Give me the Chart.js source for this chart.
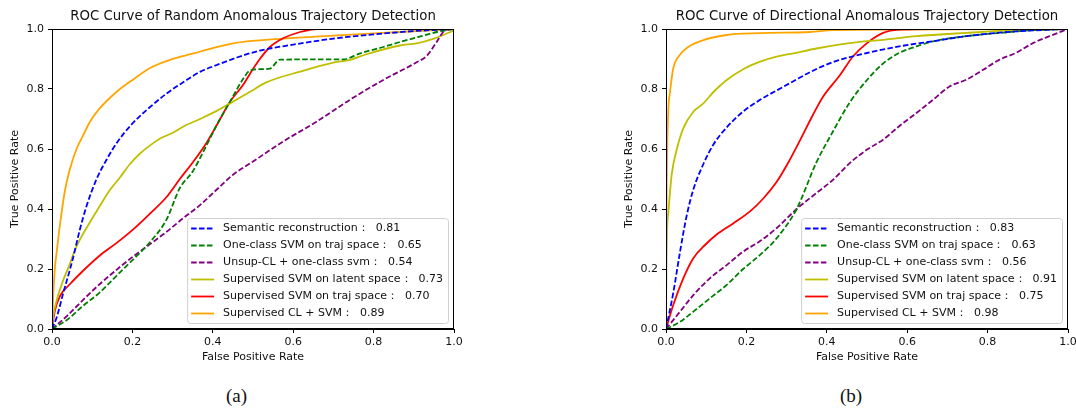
<!DOCTYPE html>
<html>
<head>
<meta charset="utf-8">
<script src="https://cdn.jsdelivr.net/npm/chart.js@4.4.1/dist/chart.umd.min.js"></script>
<style>
  body { margin: 0; background: #fff; width: 1076px; height: 409px; overflow: hidden; position: relative; }
  .wrap { position: absolute; top: 0; }
  .cap { position: absolute; top: 385px; font-family: "Liberation Serif", "DejaVu Serif", serif; font-size: 19px; line-height: 22px; color: #111; }
</style>
</head>
<body>
<div class="wrap" style="left:0px"><canvas id="chartA" width="470" height="370"></canvas></div>
<div class="wrap" style="left:614px"><canvas id="chartB" width="470" height="370"></canvas></div>
<div class="cap" style="left:226px">(a)</div>
<div class="cap" style="left:840px">(b)</div>
<script>
// ROC points as [fpr, tpr]

// (a) random anomalies
const randSemantic = [[0,0],[0.012,0.04],[0.028,0.12],[0.045,0.20],[0.053,0.24],[0.069,0.33],[0.086,0.41],[0.111,0.50],[0.136,0.565],[0.161,0.62],[0.2,0.685],[0.244,0.74],[0.285,0.785],[0.327,0.823],[0.368,0.857],[0.41,0.88],[0.46,0.905],[0.517,0.928],[0.6,0.948],[0.7,0.968],[0.8,0.982],[0.9,0.993],[1,1]];
const randOcsvm = [[0,0],[0.037,0.03],[0.078,0.078],[0.119,0.122],[0.161,0.178],[0.202,0.232],[0.244,0.29],[0.285,0.365],[0.318,0.47],[0.35,0.525],[0.376,0.59],[0.41,0.68],[0.443,0.758],[0.476,0.835],[0.493,0.862],[0.517,0.866],[0.542,0.868],[0.567,0.898],[0.725,0.899],[0.767,0.919],[0.824,0.94],[0.866,0.957],[0.924,0.978],[0.957,0.99],[1,1]];
const randUnsup = [[0,0],[0.037,0.043],[0.078,0.098],[0.119,0.15],[0.161,0.198],[0.202,0.242],[0.244,0.283],[0.285,0.324],[0.327,0.37],[0.368,0.413],[0.41,0.465],[0.451,0.515],[0.493,0.552],[0.575,0.625],[0.658,0.691],[0.741,0.764],[0.824,0.83],[0.907,0.889],[0.932,0.91],[0.957,0.957],[0.978,0.996],[1,1]];
const randLatent = [[0,0],[0.003,0.041],[0.012,0.097],[0.028,0.163],[0.045,0.219],[0.053,0.25],[0.069,0.297],[0.094,0.355],[0.119,0.41],[0.144,0.463],[0.169,0.505],[0.194,0.55],[0.219,0.585],[0.244,0.612],[0.269,0.635],[0.302,0.655],[0.327,0.675],[0.368,0.70],[0.41,0.727],[0.443,0.752],[0.493,0.791],[0.533,0.822],[0.617,0.858],[0.70,0.888],[0.741,0.897],[0.78,0.915],[0.865,0.945],[0.907,0.952],[0.95,0.968],[1,0.995]];
const randTraj = [[0,0],[0.007,0.06],[0.02,0.11],[0.045,0.15],[0.078,0.195],[0.119,0.245],[0.161,0.287],[0.202,0.332],[0.244,0.385],[0.285,0.44],[0.318,0.5],[0.35,0.555],[0.385,0.622],[0.41,0.68],[0.443,0.758],[0.476,0.815],[0.493,0.852],[0.517,0.9],[0.542,0.94],[0.575,0.969],[0.617,0.99],[0.66,1],[1,1]];
const randCl = [[0,0],[0.003,0.11],[0.007,0.2],[0.012,0.26],[0.02,0.35],[0.032,0.46],[0.045,0.535],[0.061,0.60],[0.078,0.647],[0.094,0.69],[0.119,0.736],[0.161,0.791],[0.202,0.832],[0.244,0.87],[0.285,0.893],[0.37,0.925],[0.45,0.952],[0.575,0.968],[0.70,0.978],[0.865,0.99],[1,1]];

// (b) directional anomalies
const dirSemantic = [[0,0],[0.018,0.12],[0.035,0.258],[0.051,0.375],[0.068,0.465],[0.093,0.55],[0.118,0.615],[0.151,0.672],[0.192,0.725],[0.234,0.764],[0.275,0.795],[0.317,0.826],[0.358,0.856],[0.416,0.89],[0.5,0.92],[0.58,0.942],[0.664,0.959],[0.747,0.976],[0.87,0.992],[1,1]];
const dirOcsvm = [[0,0],[0.035,0.024],[0.068,0.058],[0.109,0.102],[0.151,0.147],[0.192,0.2],[0.234,0.247],[0.275,0.302],[0.325,0.40],[0.374,0.555],[0.416,0.66],[0.457,0.755],[0.5,0.83],[0.54,0.885],[0.58,0.92],[0.623,0.942],[0.664,0.959],[0.747,0.976],[0.83,0.987],[0.913,0.996],[1,1]];
const dirUnsup = [[0,0],[0.035,0.058],[0.068,0.113],[0.109,0.169],[0.151,0.213],[0.192,0.258],[0.234,0.293],[0.275,0.336],[0.325,0.40],[0.374,0.453],[0.416,0.498],[0.457,0.553],[0.5,0.598],[0.54,0.631],[0.58,0.676],[0.623,0.72],[0.664,0.764],[0.706,0.809],[0.747,0.831],[0.789,0.864],[0.83,0.898],[0.87,0.92],[0.913,0.953],[0.954,0.976],[1,1]];
const dirLatent = [[0,0],[0.001,0.23],[0.006,0.39],[0.014,0.513],[0.027,0.60],[0.043,0.669],[0.068,0.724],[0.093,0.752],[0.118,0.79],[0.151,0.83],[0.192,0.866],[0.234,0.891],[0.275,0.908],[0.317,0.919],[0.374,0.935],[0.457,0.953],[0.54,0.964],[0.623,0.976],[0.747,0.987],[0.87,0.996],[1,1]];
const dirTraj = [[0,0],[0.018,0.08],[0.043,0.169],[0.068,0.236],[0.097,0.28],[0.126,0.315],[0.167,0.352],[0.209,0.392],[0.242,0.435],[0.275,0.49],[0.30,0.545],[0.333,0.628],[0.366,0.715],[0.391,0.775],[0.432,0.845],[0.466,0.91],[0.5,0.953],[0.54,0.987],[0.58,0.998],[0.65,1],[1,1]];
const dirCl = [[0,0],[0.001,0.35],[0.003,0.6],[0.006,0.736],[0.01,0.79],[0.018,0.869],[0.031,0.908],[0.056,0.941],[0.093,0.963],[0.151,0.98],[0.234,0.986],[0.358,0.99],[0.416,0.996],[0.58,0.998],[1,1]];

const methodNames = ['Semantic reconstruction', 'One-class SVM on traj space', 'Unsup-CL + one-class svm',
  'Supervised SVM on latent space', 'Supervised SVM on traj space', 'Supervised CL + SVM'];
const randAuc = ['0.81', '0.65', '0.54', '0.73', '0.70', '0.89'];
const dirAuc = ['0.83', '0.63', '0.56', '0.91', '0.75', '0.98'];
const axisTicks = [0, 0.2, 0.4, 0.6, 0.8, 1.0];

const lineColors = ['#0000ff', '#008000', '#800080', '#bfbf00', '#ff0000', '#ffa500'];
const dashed = [true, true, true, false, false, false];
const FONT = '"DejaVu Sans", Verdana, sans-serif';
const TXT = 11;

// title over the axes, full box around them, legend inside lower right
const framePlugin = {
  id: 'frameAndLegend',
  afterDraw(chart) {
    const ctx = chart.ctx;
    const a = chart.chartArea;
    const opts = chart.options.plugins.frameAndLegend;
    ctx.save();
    ctx.strokeStyle = '#000';
    ctx.lineWidth = 1;
    ctx.strokeRect(Math.round(a.left) + 0.5, Math.round(a.top) + 0.5,
      Math.round(a.right - a.left) - 1, Math.round(a.bottom - a.top) - 1);

    ctx.fillStyle = '#111';
    ctx.font = '13.3px ' + FONT;
    ctx.textAlign = 'center';
    ctx.textBaseline = 'middle';
    ctx.fillText(opts.title, (a.left + a.right) / 2, a.top - 12);
    ctx.textAlign = 'left';

    const labels = opts.labels;
    ctx.font = TXT + 'px ' + FONT;
    let maxW = 0;
    labels.forEach(t => { maxW = Math.max(maxW, ctx.measureText(t).width); });
    const rowH = 17;
    const w = 36 + maxW + 5;
    const h = rowH * labels.length + 3;
    const right = a.right - 6, bottom = a.bottom - 6;
    const left = right - w, top = bottom - h;
    ctx.beginPath();
    ctx.roundRect(left + 0.5, top + 0.5, w, h, 3);
    ctx.fillStyle = 'rgba(255,255,255,0.85)';
    ctx.fill();
    ctx.strokeStyle = '#d0d0d0';
    ctx.stroke();

    chart.data.datasets.forEach((ds, i) => {
      const y = top + 10.5 + i * rowH;
      ctx.beginPath();
      ctx.setLineDash(ds.borderDash || []);
      ctx.strokeStyle = ds.borderColor;
      ctx.lineWidth = 1.8;
      ctx.moveTo(left + 4, y);
      ctx.lineTo(left + 27, y);
      ctx.stroke();
      ctx.setLineDash([]);
      ctx.fillStyle = '#111';
      ctx.textBaseline = 'middle';
      ctx.fillText(labels[i], left + 36, y);
    });
    ctx.restore();
  }
};

function makeChart(id, title, series, aucs) {
  const datasets = series.map((pts, i) => ({
    label: methodNames[i],
    data: pts.map(p => ({ x: p[0], y: p[1] })),
    borderColor: lineColors[i],
    borderWidth: 1.8,
    borderDash: dashed[i] ? [5.5, 2.4] : [],
    showLine: true,
    pointRadius: 0,
    cubicInterpolationMode: 'monotone',
    fill: false
  }));
  const axis = (label, isY) => ({
    type: 'linear',
    min: 0,
    max: 1,
    afterBuildTicks: s => { s.ticks = axisTicks.map(v => ({ value: v })); },
    afterFit: s => { if (isY) s.width = 52; else s.height = 41; },
    ticks: {
      color: '#111',
      font: { family: FONT, size: TXT },
      padding: isY ? 4 : 3,
      maxRotation: 0,
      callback: v => v.toFixed(1)
    },
    grid: { drawOnChartArea: false, drawTicks: true, tickLength: 4, color: '#000' },
    border: { color: '#000', width: 1 },
    title: {
      display: true,
      text: label,
      color: '#111',
      font: { family: FONT, size: TXT },
      padding: isY ? { top: 8.4 } : { bottom: 6.4 }
    }
  });
  return new Chart(document.getElementById(id), {
    type: 'scatter',
    data: { datasets },
    options: {
      responsive: false,
      animation: false,
      devicePixelRatio: 1,
      layout: { padding: { left: 0, right: 16, top: 29, bottom: 0 } },
      scales: {
        x: axis('False Positive Rate', false),
        y: axis('True Positive Rate', true)
      },
      plugins: {
        legend: { display: false },
        tooltip: { enabled: false },
        title: { display: false },
        frameAndLegend: {
          title: title,
          labels: methodNames.map((n, i) => n + '\uFF1A  ' + aucs[i])
        }
      }
    },
    plugins: [framePlugin]
  });
}

makeChart('chartA', 'ROC Curve of Random Anomalous Trajectory Detection',
  [randSemantic, randOcsvm, randUnsup, randLatent, randTraj, randCl], randAuc);
makeChart('chartB', 'ROC Curve of Directional Anomalous Trajectory Detection',
  [dirSemantic, dirOcsvm, dirUnsup, dirLatent, dirTraj, dirCl], dirAuc);
</script>
</body>
</html>
